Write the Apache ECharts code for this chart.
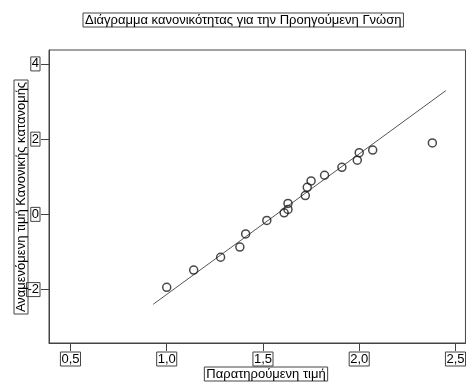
<!DOCTYPE html>
<html>
<head>
<meta charset="utf-8">
<script src="https://cdn.jsdelivr.net/npm/echarts@6/dist/echarts.min.js"></script>
<style>
  html, body { margin: 0; padding: 0; background: #fff; }
  #chart { width: 469px; height: 382px; }
</style>
</head>
<body>
<div id="chart"></div>
<script>
// Normal Q-Q plot: observed values against expected normal quantiles
const chartTitle = 'Διάγραμμα κανονικότητας για την Προηγούμενη Γνώση';
const xTitle = 'Παρατηρούμενη τιμή';
const yTitle = 'Αναμενόμενη τιμή Κανονικής κατανομής';

const observed = [1.00, 1.14, 1.28, 1.38, 1.41, 1.52, 1.61, 1.63, 1.63, 1.72, 1.73, 1.75, 1.82, 1.91, 1.99, 2.00, 2.07, 2.38];
const expectedNormal = [-1.94, -1.48, -1.14, -0.87, -0.52, -0.16, 0.04, 0.13, 0.29, 0.50, 0.72, 0.89, 1.04, 1.25, 1.44, 1.64, 1.71, 1.90];

// reference line end points (observed, expected)
const refLineX = [0.93, 2.45];
const refLineY = [-2.39, 3.29];

const xTicks = [0.5, 1.0, 1.5, 2.0, 2.5];
const yTicks = [-2, 0, 2, 4];

const font = 'Liberation Sans, Arial, sans-serif';
const ink = '#1a1a1a';

const chart = echarts.init(document.getElementById('chart'), null, { renderer: 'canvas' });

const boxLabel = {
  fontFamily: font,
  fontSize: 13,
  color: '#000',
  borderColor: '#444',
  borderWidth: 1,
  padding: [1, 1, 0, 1]
};

chart.setOption({
  animation: false,
  backgroundColor: '#fff',
  grid: {
    left: 49, top: 50, right: -1, bottom: 39,
    show: true, borderColor: '#444', borderWidth: 1, backgroundColor: '#fff'
  },
  xAxis: {
    type: 'value',
    min: 0.3885, max: 2.5519,
    axisLine: { show: true, onZero: false, lineStyle: { color: '#444', width: 1 } },
    axisTick: { show: true, length: 8, customValues: xTicks, lineStyle: { color: '#444' } },
    splitLine: { show: false },
    axisLabel: Object.assign({}, boxLabel, {
      margin: 9,
      customValues: xTicks,
      formatter: v => v.toFixed(1).replace('.', ',')
    })
  },
  yAxis: {
    type: 'value',
    min: -3.42, max: 4.37,
    axisLine: { show: true, onZero: false, lineStyle: { color: '#444', width: 1 } },
    axisTick: { show: true, length: 8, customValues: yTicks, lineStyle: { color: '#444' } },
    splitLine: { show: false },
    axisLabel: Object.assign({}, boxLabel, {
      margin: 9,
      customValues: yTicks,
      formatter: v => String(v)
    })
  },
  graphic: [
    {
      type: 'text', x: 83, y: 13, z: 10,
      style: Object.assign({}, boxLabel, { text: chartTitle, padding: [1, 2, 0, 2] })
    },
    {
      type: 'text', x: 266, y: 367, z: 10,
      style: Object.assign({}, boxLabel, { text: xTitle, align: 'center', padding: [1, 2, 0, 2] })
    },
    {
      type: 'text', x: 21, y: 197, rotation: Math.PI / 2, z: 5,
      style: Object.assign({}, boxLabel, {
        text: yTitle, align: 'center', verticalAlign: 'middle',
        width: 232, overflow: 'truncate', ellipsis: '', padding: [1, 1, 0, 1]
      })
    }
  ],
  series: [
    {
      type: 'line',
      data: refLineX.map((x, i) => [x, refLineY[i]]),
      symbol: 'none',
      lineStyle: { color: '#555', width: 1 },
      z: 2
    },
    {
      type: 'scatter',
      data: observed.map((x, i) => [x, expectedNormal[i]]),
      symbol: 'circle',
      symbolSize: 8,
      itemStyle: { color: 'rgba(255,255,255,0)', borderColor: ink, borderWidth: 1.5 },
      z: 3
    }
  ]
});
</script>
</body>
</html>
